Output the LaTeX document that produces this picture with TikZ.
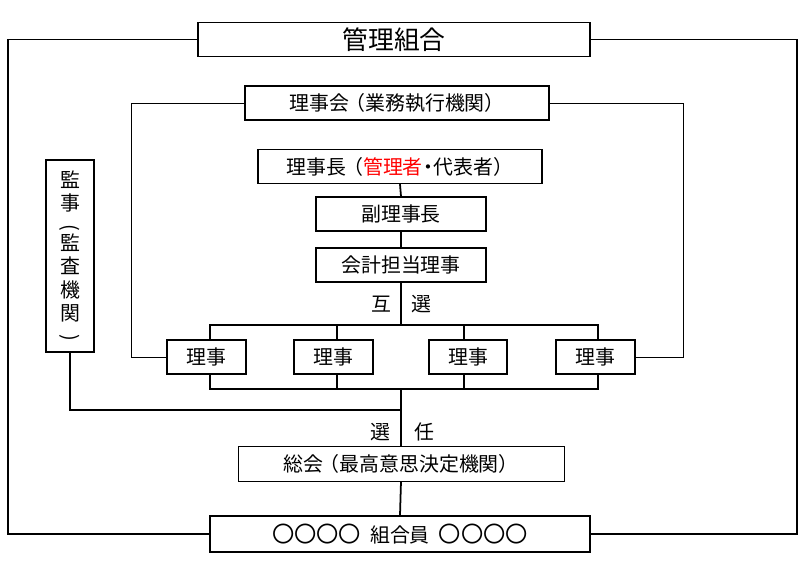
\documentclass[tikz,border=0pt]{standalone}
\usepackage{fontspec}
\setmainfont{Noto Sans CJK JP}
\begin{document}
\begin{tikzpicture}[x=0.03cm,y=-0.03cm,
  box/.style={draw,line width=1.2pt,minimum height=1.02cm,inner sep=0pt,font=\fontsize{17}{19}\selectfont},
  thin/.style={line width=0.7pt},
  thick/.style={line width=1.5pt},
  lbl/.style={font=\fontsize{17}{19}\selectfont,inner sep=0pt}]
\useasboundingbox (0,0) rectangle (807,561);
\node[box,minimum width=11.76cm,font=\fontsize{22}{24}\selectfont] (kumiai) at (394,39.5) {管理組合};
\node[box,minimum width=9.12cm] (rijikai) at (397,103) {理事会\kern-3pt（業務執行機関）};
\node[box,minimum width=8.52cm] (chou) at (400,166.5) {理事長\kern-3pt（\textcolor{red}{管理者}\kern-4pt・\kern-4pt代表者）};
\node[box,minimum width=5.1cm] (fuku) at (401,214) {副理事長};
\node[box,minimum width=5.1cm] (kaikei) at (401,265) {会計担当理事};
\node[box,minimum width=2.37cm] (r1) at (206.5,357) {理事};
\node[box,minimum width=2.37cm] (r2) at (333.5,357) {理事};
\node[box,minimum width=2.34cm] (r3) at (468,357) {理事};
\node[box,minimum width=2.37cm] (r4) at (595.5,357) {理事};
\node[box,minimum width=1.44cm,minimum height=5.76cm,align=center,font=\fontsize{17}{20}\selectfont] (kanji) at (70,256) {監\\事\\[-8pt]\rotatebox{-90}{(}\\[2pt]監\\査\\機\\関\\[-8pt]\rotatebox{-90}{)}};
\node[draw,thin,minimum width=9.78cm,minimum height=1.05cm,font=\fontsize{17}{19}\selectfont] (soukai) at (401,463.5) {総会\kern-3pt（最高意思決定機関）};
\node[box,minimum width=11.4cm,minimum height=1.08cm] (kumiaiin) at (400,534) {{\fontsize{19}{21}\selectfont 〇〇〇〇}\ \ 組合員\ \ {\fontsize{19}{21}\selectfont 〇〇〇〇}};
\node[lbl] (go) at (381,304) {互};
\node[lbl] (sen) at (421,304) {選};
\node[lbl] (sen2) at (380,432) {選};
\node[lbl] (nin) at (424,432) {任};
\coordinate (tl) at (8,39.5); \coordinate (tr) at (797,39.5);
\coordinate (bl) at (8,534); \coordinate (br) at (797,534);
\draw[thick] (kumiai.west) -- (tl) -- (bl) -- (kumiaiin.west);
\draw[thick] (kumiai.east) -- (tr) -- (br) -- (kumiaiin.east);
\draw[thin] (rijikai.west) -| (131,357) -- (r1.west);
\draw[thin] (rijikai.east) -| (683,357) -- (r4.east);
\draw[thick] (chou.south) -- (fuku.north);
\draw[thick] (fuku.south) -- (kaikei.north);
\draw[thick] (kaikei.south) -- (401,325);
\draw[thick] (210,339) -- (210,325) -- (598,325) -- (598,339);
\draw[thick] (337,325) -- (337,339);
\draw[thick] (464,325) -- (464,339);
\draw[thick] (210,375) -- (210,389) -- (598,389) -- (598,375);
\draw[thick] (337,375) -- (337,389);
\draw[thick] (464,375) -- (464,389);
\draw[thick] (401,389) -- (soukai.north);
\draw[thick] (kanji.south) -- (70,410) -- (401,410);
\draw[thick] (soukai.south) -- (kumiaiin.north);
\end{tikzpicture}
\end{document}
